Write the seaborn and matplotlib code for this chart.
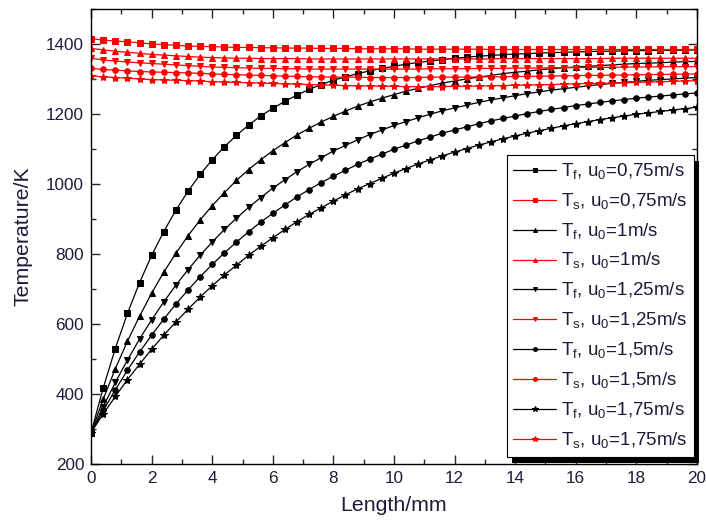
import numpy as np
import matplotlib
matplotlib.use('Agg')
import matplotlib.pyplot as plt
import seaborn as sns
from matplotlib.patches import Rectangle
from matplotlib.ticker import MultipleLocator

sns.set_style('ticks')
plt.rcParams['font.family'] = ['Liberation Sans', 'DejaVu Sans']
plt.rcParams['mathtext.fontset'] = 'custom'
plt.rcParams['mathtext.rm'] = 'Liberation Sans'

# Length along the bed (mm), one point every 0.4 mm
length = np.linspace(0, 20, 51)

speeds = ['0,75', '1', '1,25', '1,5', '1,75']
markers = ['s', '^', 'v', 'o', '*']

# fluid temperature T_f (K)
tf_075 = [290, 417, 530, 630, 718, 796, 864, 925, 979, 1027,
          1069, 1106, 1139, 1168, 1194, 1216, 1236, 1254, 1270, 1284,
          1296, 1306, 1315, 1323, 1330, 1336, 1342, 1347, 1351, 1355,
          1359, 1362, 1365, 1367, 1369, 1371, 1372, 1374, 1375, 1376,
          1377, 1378, 1379, 1379, 1380, 1381, 1381, 1382, 1382, 1382, 1383]
tf_1 = [290, 385, 472, 551, 622, 688, 748, 802, 852, 897,
        938, 975, 1010, 1041, 1069, 1095, 1118, 1140, 1159, 1177,
        1193, 1208, 1222, 1234, 1245, 1255, 1265, 1273, 1281, 1288,
        1294, 1300, 1305, 1310, 1315, 1319, 1322, 1326, 1329, 1332,
        1334, 1336, 1338, 1340, 1342, 1344, 1345, 1346, 1348, 1349, 1350]
tf_125 = [290, 364, 433, 497, 557, 612, 663, 711, 755, 796,
          834, 870, 902, 933, 961, 988, 1012, 1035, 1056, 1075,
          1094, 1110, 1126, 1141, 1154, 1167, 1178, 1189, 1199, 1209,
          1217, 1225, 1233, 1240, 1246, 1252, 1258, 1263, 1268, 1272,
          1276, 1280, 1284, 1287, 1290, 1293, 1296, 1298, 1300, 1302, 1304]
tf_15 = [290, 353, 412, 468, 520, 568, 614, 657, 697, 735,
         770, 803, 834, 863, 891, 916, 940, 963, 984, 1004,
         1022, 1039, 1056, 1071, 1085, 1099, 1111, 1123, 1134, 1145,
         1154, 1163, 1172, 1180, 1187, 1194, 1201, 1207, 1213, 1218,
         1224, 1228, 1233, 1237, 1241, 1245, 1248, 1251, 1254, 1257, 1260]
tf_175 = [290, 343, 393, 441, 485, 528, 568, 606, 642, 677,
          709, 740, 768, 796, 822, 846, 870, 892, 913, 932,
          951, 969, 986, 1001, 1016, 1031, 1044, 1057, 1069, 1080,
          1091, 1101, 1111, 1120, 1129, 1137, 1145, 1152, 1159, 1166,
          1172, 1178, 1184, 1189, 1194, 1199, 1203, 1207, 1211, 1215, 1219]

# solid temperature T_s (K)
ts_075 = [1415, 1411, 1408, 1406, 1403, 1400, 1398, 1396, 1394, 1393,
          1392, 1391, 1390, 1390, 1389, 1389, 1388, 1388, 1388, 1387,
          1387, 1387, 1386, 1386, 1386, 1386, 1386, 1385, 1385, 1385,
          1385, 1385, 1385, 1384, 1384, 1384, 1384, 1384, 1384, 1384,
          1384, 1384, 1384, 1384, 1384, 1384, 1384, 1384, 1384, 1384, 1384]
ts_1 = [1387, 1383, 1379, 1376, 1373, 1370, 1368, 1366, 1364, 1362,
        1361, 1360, 1359, 1359, 1358, 1358, 1358, 1358, 1357, 1357,
        1357, 1357, 1357, 1357, 1357, 1357, 1357, 1357, 1357, 1357,
        1357, 1357, 1357, 1357, 1358, 1358, 1358, 1358, 1358, 1358,
        1358, 1358, 1358, 1359, 1359, 1359, 1359, 1359, 1359, 1359, 1359]
ts_125 = [1359, 1354, 1351, 1348, 1346, 1344, 1342, 1340, 1338, 1336,
          1334, 1333, 1332, 1331, 1330, 1330, 1329, 1329, 1328, 1328,
          1328, 1328, 1328, 1328, 1328, 1328, 1328, 1328, 1329, 1329,
          1329, 1329, 1330, 1330, 1330, 1331, 1331, 1331, 1332, 1332,
          1332, 1333, 1333, 1333, 1334, 1334, 1334, 1335, 1335, 1335, 1335]
ts_15 = [1330, 1327, 1325, 1323, 1321, 1320, 1319, 1318, 1317, 1316,
         1314, 1313, 1312, 1311, 1310, 1309, 1308, 1307, 1306, 1306,
         1305, 1305, 1305, 1304, 1304, 1304, 1304, 1304, 1305, 1305,
         1305, 1305, 1306, 1306, 1306, 1307, 1307, 1308, 1308, 1309,
         1309, 1310, 1310, 1311, 1311, 1312, 1312, 1313, 1313, 1314, 1314]
ts_175 = [1309, 1306, 1304, 1302, 1300, 1298, 1297, 1296, 1295, 1294,
          1292, 1291, 1290, 1289, 1288, 1287, 1286, 1285, 1284, 1283,
          1282, 1281, 1280, 1280, 1279, 1279, 1278, 1278, 1278, 1278,
          1279, 1279, 1280, 1280, 1281, 1282, 1282, 1283, 1284, 1285,
          1286, 1287, 1287, 1288, 1289, 1290, 1291, 1292, 1293, 1294, 1295]

tf_all = [tf_075, tf_1, tf_125, tf_15, tf_175]
ts_all = [ts_075, ts_1, ts_125, ts_15, ts_175]

txt = '#1c1c3a'

fig = plt.figure(figsize=(7.06, 5.22), dpi=100)
ax = fig.add_axes([0.129, 0.111, 0.858, 0.872])

for i in range(5):
    ms = 6 if markers[i] == '*' else 4
    sns.lineplot(x=length, y=tf_all[i], ax=ax, color='black', marker=markers[i],
                 markersize=ms, markeredgecolor='black', linewidth=0.9,
                 label=r'T$_\mathregular{f}$, u$_\mathregular{0}$=' + speeds[i] + 'm/s')
    sns.lineplot(x=length, y=ts_all[i], ax=ax, color='red', marker=markers[i],
                 markersize=ms, markeredgecolor='red', linewidth=0.9,
                 label=r'T$_\mathregular{s}$, u$_\mathregular{0}$=' + speeds[i] + 'm/s')

ax.set_xlim(0, 20)
ax.set_ylim(200, 1500)
ax.xaxis.set_major_locator(MultipleLocator(2))
ax.xaxis.set_minor_locator(MultipleLocator(1))
ax.yaxis.set_major_locator(MultipleLocator(200))
ax.yaxis.set_minor_locator(MultipleLocator(100))
ax.tick_params(which='both', direction='in', top=True, right=True,
               labelsize=12.3, labelcolor=txt, width=1)
ax.tick_params(which='major', length=6.5, pad=5)
ax.tick_params(which='minor', length=3.5)
for s in ax.spines.values():
    s.set_linewidth(1)
    s.set_color('black')

ax.set_xlabel('Length/mm', fontsize=15.3, color=txt, labelpad=7)
ax.set_ylabel('Temperature/K', fontsize=15.3, color=txt, labelpad=10)

leg = ax.legend(loc='upper left', bbox_to_anchor=(0.686, 0.679), borderaxespad=0,
                frameon=True, fancybox=False, edgecolor='black', framealpha=1,
                fontsize=13.5, handlelength=2.3, labelspacing=0.51,
                handletextpad=0.25, borderpad=0.35, markerscale=0.7)
leg.get_frame().set_linewidth(0.8)
for t in leg.get_texts():
    t.set_color(txt)
leg.set_zorder(6)

# black drop shadow behind the legend box
fig.canvas.draw()
bb = leg.get_window_extent().transformed(ax.transAxes.inverted())
dx, dy = 5 / 606, 6 / 455
ax.add_patch(Rectangle((bb.x0 + dx, bb.y0 - dy), bb.width, bb.height,
                       transform=ax.transAxes, facecolor='black',
                       edgecolor='none', zorder=5, clip_on=False))

fig.savefig('out.png', dpi=100)
